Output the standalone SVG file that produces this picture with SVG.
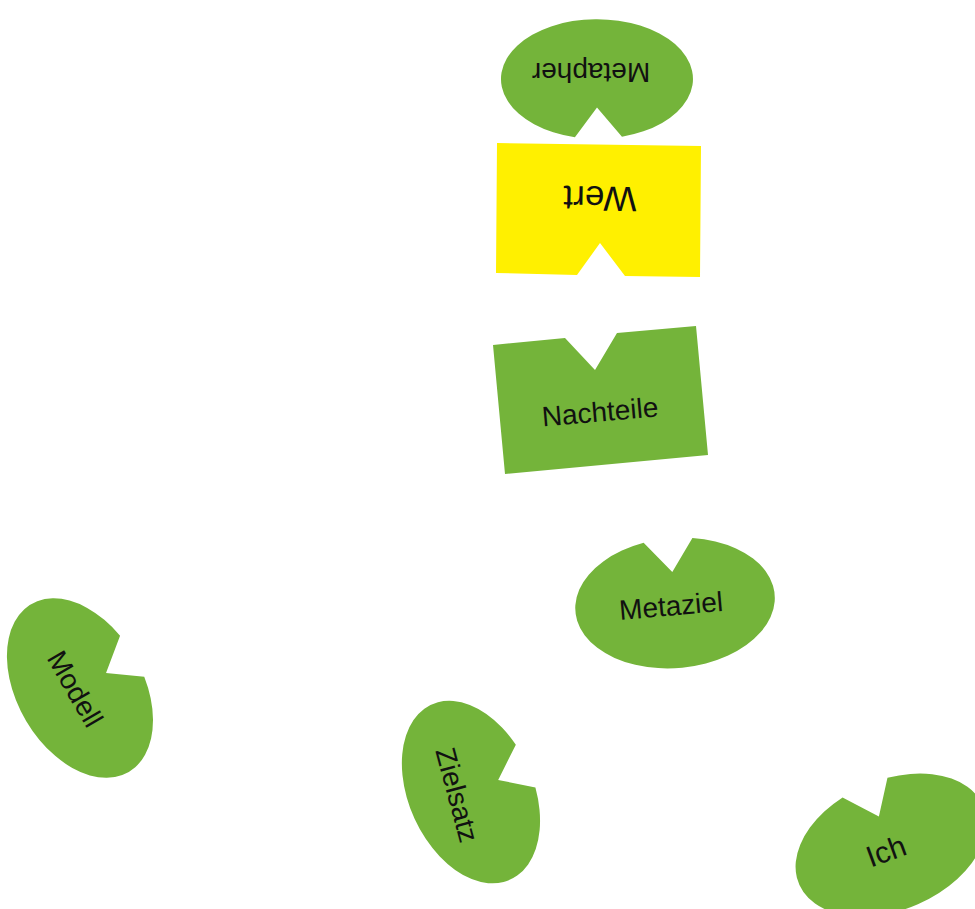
<svg xmlns="http://www.w3.org/2000/svg" width="975" height="909" viewBox="0 0 975 909">
<style>
.g{fill:#74b43a}
.y{fill:#fff000}
.t{font-family:"Liberation Sans",Arial,sans-serif;fill:#111;text-anchor:middle;dominant-baseline:central;font-size:28px}
</style>
<defs>
<path id="pac" d="M -26,-62.7 L 0,-31 L 23,-63.2 A 100 65 0 1 1 -26,-62.7 Z"/>
</defs>
<rect width="975" height="909" fill="#fff"/>
<g id="metapher">
<use href="#pac" class="g" transform="translate(597,79) rotate(180) scale(0.96,0.92)"/>
<text class="t" transform="translate(591,72) rotate(180)">Metapher</text>
</g>
<g id="wert">
<polygon class="y" points="497,143 701,146 700,277 625,276 600,243 577,275 496,273"/>
<text class="t" font-size="35" style="font-size:35px" transform="translate(600,199) rotate(181)">Wert</text>
</g>
<g id="nachteile">
<polygon class="g" points="493,345 565,338 595,370 617,333 696,326 708,455 505,474"/>
<text class="t" transform="translate(600,412) rotate(-5)">Nachteile</text>
</g>
<g id="metaziel">
<use href="#pac" class="g" transform="translate(675,603) rotate(-5)"/>
<text class="t" transform="translate(671,606) rotate(-5)">Metaziel</text>
</g>
<g id="modell">
<use href="#pac" class="g" transform="translate(80,688) rotate(60) scale(0.97)"/>
<text class="t" transform="translate(75,689) rotate(60)">Modell</text>
</g>
<g id="zielsatz">
<use href="#pac" class="g" transform="translate(471,792) rotate(66) scale(0.96)"/>
<text class="t" transform="translate(457,795) rotate(75)">Zielsatz</text>
</g>
<g id="ich">
<use href="#pac" class="g" transform="translate(891,845) rotate(-23)"/>
<text class="t" style="font-size:30px" transform="translate(886,851) rotate(-20)">Ich</text>
</g>
<g id="connectors"/>
</svg>
